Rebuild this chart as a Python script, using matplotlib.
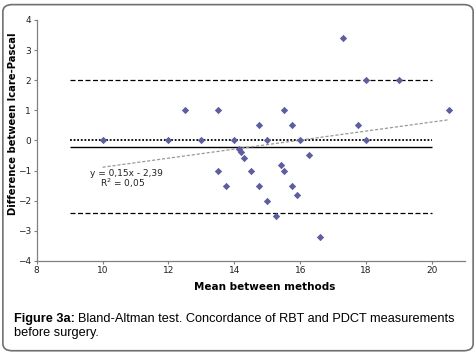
import numpy as np
import matplotlib.pyplot as plt
from matplotlib.patches import FancyBboxPatch

# Bland-Altman data: mean between methods vs difference
mean_vals = [10, 12, 12.5, 13, 13.5, 13.5, 13.75, 14, 14.15, 14.2, 14.3, 14.5,
             14.75, 14.75, 15, 15, 15.25, 15.4, 15.5, 15.5, 15.75, 15.75, 15.9,
             16, 16.25, 16.6, 17.3, 17.75, 18, 18, 19, 20.5]
diff_vals = [0, 0, 1, 0, 1, -1, -1.5, 0, -0.3, -0.4, -0.6, -1,
             0.5, -1.5, 0, -2, -2.5, -0.8, 1, -1, 0.5, -1.5, -1.8,
             0, -0.5, -3.2, 3.4, 0.5, 2, 0, 2, 1]
upper_loa = 2.0
lower_loa = -2.42
mean_diff = -0.22
zero_line = 0.0
slope, intercept = 0.15, -2.39
line_span = [9, 20]
x_ticks = [8, 10, 12, 14, 16, 18, 20]
y_ticks = [-4, -3, -2, -1, 0, 1, 2, 3, 4]

fig = plt.figure(figsize=(4.76, 3.55), dpi=100)

# rounded frame around the whole panel
frame = FancyBboxPatch((0.006, 0.012), 0.988, 0.975, boxstyle="round,pad=0,rounding_size=0.02",
                       transform=fig.transFigure, fill=False, edgecolor='#707070', linewidth=1.2)
fig.patches.append(frame)

ax = fig.add_axes([0.077, 0.265, 0.9, 0.679])
ax.set_xlim(8, 21)
ax.set_ylim(-4, 4)

ax.hlines(upper_loa, *line_span, colors='black', linestyles=(0, (4, 2)), linewidth=0.9)
ax.hlines(lower_loa, *line_span, colors='black', linestyles=(0, (4, 2)), linewidth=0.9)
ax.hlines(zero_line, *line_span, colors='black', linestyles=(0, (1, 1)), linewidth=1.3)
ax.hlines(mean_diff, *line_span, colors='black', linestyles='solid', linewidth=1.0)

xt = np.array([min(mean_vals), max(mean_vals)])
ax.plot(xt, slope * xt + intercept, color='#999999', linestyle=(0, (2.5, 1.5)), linewidth=0.9)

ax.scatter(mean_vals, diff_vals, marker='D', s=14, color='#5E5E9E', zorder=3, linewidths=0)

ax.text(9.63, -1.1, 'y = 0,15x - 2,39', fontsize=6.5, color='#222222', va='center')
ax.text(9.93, -1.43, 'R$^2$ = 0,05', fontsize=6.5, color='#222222', va='center')

ax.set_xticks(x_ticks)
ax.set_yticks(y_ticks)
for s in ['top', 'right']:
    ax.spines[s].set_visible(False)
for s in ['left', 'bottom']:
    ax.spines[s].set_color('#808080')
    ax.spines[s].set_linewidth(0.9)
ax.tick_params(axis='both', labelsize=6.5, colors='#808080', labelcolor='#222222',
               length=2.5, width=0.8, pad=1.5)

ax.set_xlabel('Mean between methods', fontsize=7.5, fontweight='bold')
ax.set_ylabel('Difference between Icare-Pascal', fontsize=7.2, fontweight='bold')
ax.xaxis.set_label_coords(0.532, -0.088)
ax.yaxis.set_label_coords(-0.044, 0.568)

# caption: bold prefix followed by normal text
cap_font = dict(fontsize=9.2, family='Liberation Sans', va='baseline')
t1 = fig.text(0.03, 0.093, 'Figure 3a:', fontweight='bold', **cap_font)
fig.canvas.draw()
bb = t1.get_window_extent(renderer=fig.canvas.get_renderer())
x_after = (bb.x1 + 3) / fig.bbox.width
fig.text(x_after, 0.093, 'Bland-Altman test. Concordance of RBT and PDCT measurements', **cap_font)
fig.text(0.03, 0.054, 'before surgery.', **cap_font)

fig.savefig('out.png', dpi=100)
